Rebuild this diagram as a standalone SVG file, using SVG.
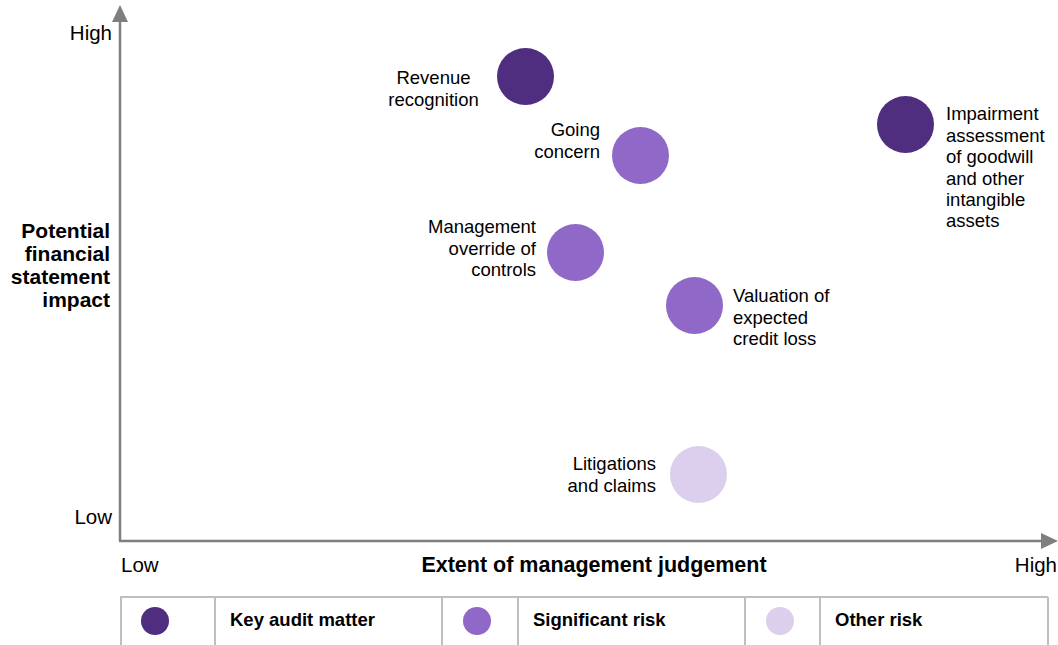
<svg xmlns="http://www.w3.org/2000/svg" width="1058" height="645" viewBox="0 0 1058 645">
<style>
text{font-family:"Liberation Sans",Arial,sans-serif;fill:#000}
.lbl{font-size:18.5px}
.ax{font-size:20.5px}
.bt{font-weight:bold}
.r{text-anchor:end}
.c{text-anchor:middle}
.kam{fill:#4f2d7f}
.sig{fill:#9069c8}
.oth{fill:#dccfee}
.axis{stroke:#7f7f7f;stroke-width:2.5;fill:none}
.grid{stroke:#bfbfbf;stroke-width:2;fill:none}
</style>
<rect width="1058" height="645" fill="#fff"/>
<g id="axes">
<path class="axis" d="M120,541 V18 M119,541 H1044"/>
<polygon points="120,5 128,22 112,22" fill="#7f7f7f"/>
<polygon points="1058,541 1041,533 1041,549" fill="#7f7f7f"/>
<text class="ax r" x="112" y="40">High</text>
<text class="ax r" x="112" y="524">Low</text>
<text class="ax" x="121" y="572">Low</text>
<text class="ax r" x="1057" y="572">High</text>
<text class="bt c" x="594" y="572" font-size="21.5">Extent of management judgement</text>
<text class="bt r" x="110" font-size="21"><tspan x="110" y="238">Potential</tspan><tspan x="110" y="261">financial</tspan><tspan x="110" y="284">statement</tspan><tspan x="110" y="307">impact</tspan></text>
</g>
<g id="revenue">
<circle class="kam" cx="525.5" cy="76.5" r="28.5"/>
<text class="lbl c"><tspan x="433.5" y="84">Revenue</tspan><tspan x="433.5" y="105.5">recognition</tspan></text>
</g>
<g id="going-concern">
<circle class="sig" cx="640.5" cy="155.5" r="28.5"/>
<text class="lbl r"><tspan x="600" y="136">Going</tspan><tspan x="600" y="158">concern</tspan></text>
</g>
<g id="impairment">
<circle class="kam" cx="905.5" cy="124.5" r="28.5"/>
<text class="lbl"><tspan x="946" y="120">Impairment</tspan><tspan x="946" y="141.5">assessment</tspan><tspan x="946" y="163">of goodwill</tspan><tspan x="946" y="184.5">and other</tspan><tspan x="946" y="206">intangible</tspan><tspan x="946" y="227">assets</tspan></text>
</g>
<g id="management-override">
<circle class="sig" cx="575.5" cy="252.5" r="28.5"/>
<text class="lbl r"><tspan x="536" y="233">Management</tspan><tspan x="536" y="254.5">override of</tspan><tspan x="536" y="276">controls</tspan></text>
</g>
<g id="valuation-ecl">
<circle class="sig" cx="694.5" cy="305.5" r="28.5"/>
<text class="lbl"><tspan x="733" y="302">Valuation of</tspan><tspan x="733" y="323.5">expected</tspan><tspan x="733" y="345">credit loss</tspan></text>
</g>
<g id="litigations">
<circle class="oth" cx="698.5" cy="474.5" r="28.5"/>
<text class="lbl r"><tspan x="656" y="470">Litigations</tspan><tspan x="656" y="492">and claims</tspan></text>
</g>
<g id="legend">
<path class="grid" d="M120,597 H1048 M121,597 V645 M215,597 V645 M442,597 V645 M518,597 V645 M745,597 V645 M820,597 V645 M1048,597 V645"/>
<circle class="kam" cx="155" cy="621" r="14"/>
<circle class="sig" cx="477" cy="621" r="14"/>
<circle class="oth" cx="780" cy="621" r="14"/>
<text class="lbl bt" x="230" y="626">Key audit matter</text>
<text class="lbl bt" x="533" y="626">Significant risk</text>
<text class="lbl bt" x="835" y="626">Other risk</text>
</g>
</svg>
